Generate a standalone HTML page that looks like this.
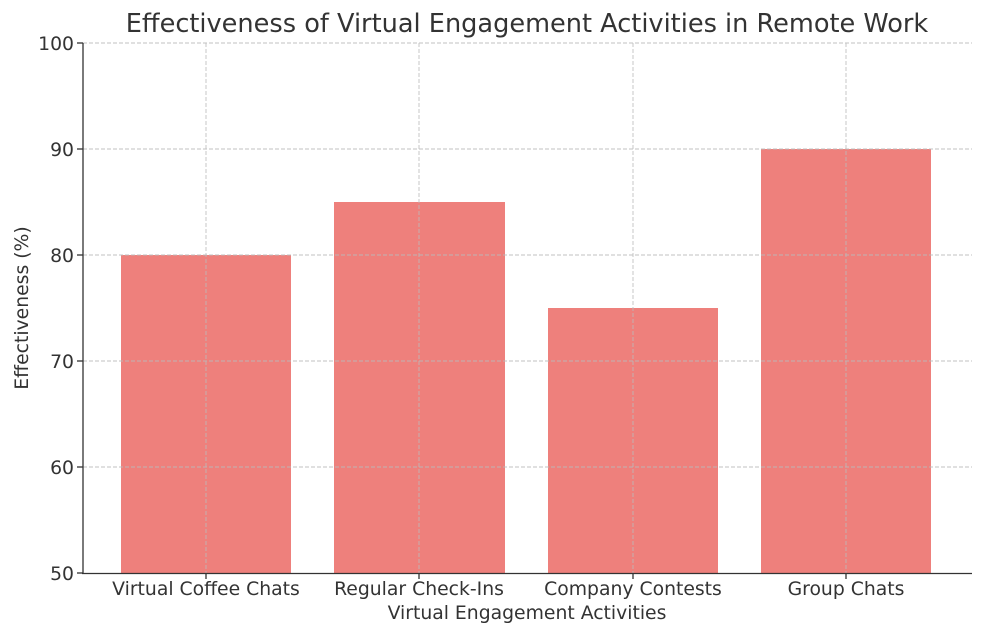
<!DOCTYPE html>
<html><head><style>body{margin:0;background:#fff}</style></head><body>
<svg width="990" height="635" xmlns="http://www.w3.org/2000/svg" font-family="DejaVu Sans, sans-serif" fill="#333">
<rect width="990" height="635" fill="#fff"/>
<g fill="#ee807c">
<rect x="121" y="255" width="170" height="318"/>
<rect x="334" y="202" width="171" height="371"/>
<rect x="548" y="308" width="170" height="265"/>
<rect x="761" y="149" width="170" height="424"/>
</g>
<g stroke="#bbb" stroke-width="0.9" stroke-dasharray="4,2" opacity="0.9">
<line x1="83" x2="972" y1="43" y2="43"/><line x1="83" x2="972" y1="149" y2="149"/>
<line x1="83" x2="972" y1="255" y2="255"/><line x1="83" x2="972" y1="361" y2="361"/>
<line x1="83" x2="972" y1="467" y2="467"/>
<line x1="206" x2="206" y1="43" y2="573"/><line x1="419" x2="419" y1="43" y2="573"/>
<line x1="633" x2="633" y1="43" y2="573"/><line x1="846" x2="846" y1="43" y2="573"/>
</g>
<g stroke="#333" stroke-width="1.3">
<line x1="83" x2="83" y1="43" y2="574"/><line x1="82" x2="972" y1="573.5" y2="573.5"/>
<line x1="77" x2="83" y1="43" y2="43"/><line x1="77" x2="83" y1="149" y2="149"/>
<line x1="77" x2="83" y1="255" y2="255"/><line x1="77" x2="83" y1="361" y2="361"/>
<line x1="77" x2="83" y1="467" y2="467"/><line x1="77" x2="83" y1="573" y2="573"/>
<line x1="206" x2="206" y1="573" y2="579"/><line x1="419" x2="419" y1="573" y2="579"/>
<line x1="633" x2="633" y1="573" y2="579"/><line x1="846" x2="846" y1="573" y2="579"/>
</g>
<g font-size="18.8" text-anchor="end">
<text x="74" y="50">100</text><text x="74" y="156">90</text><text x="74" y="262">80</text>
<text x="74" y="368">70</text><text x="74" y="474">60</text><text x="74" y="580">50</text>
</g>
<g font-size="18.8" text-anchor="middle">
<text x="206" y="595">Virtual Coffee Chats</text><text x="419" y="595">Regular Check-Ins</text>
<text x="633" y="595">Company Contests</text><text x="846" y="595">Group Chats</text>
<text x="527" y="619">Virtual Engagement Activities</text>
<text transform="translate(28,308) rotate(-90)">Effectiveness (%)</text>
<text x="527" y="32" font-size="25.6">Effectiveness of Virtual Engagement Activities in Remote Work</text>
</g>
</svg>
</body></html>
